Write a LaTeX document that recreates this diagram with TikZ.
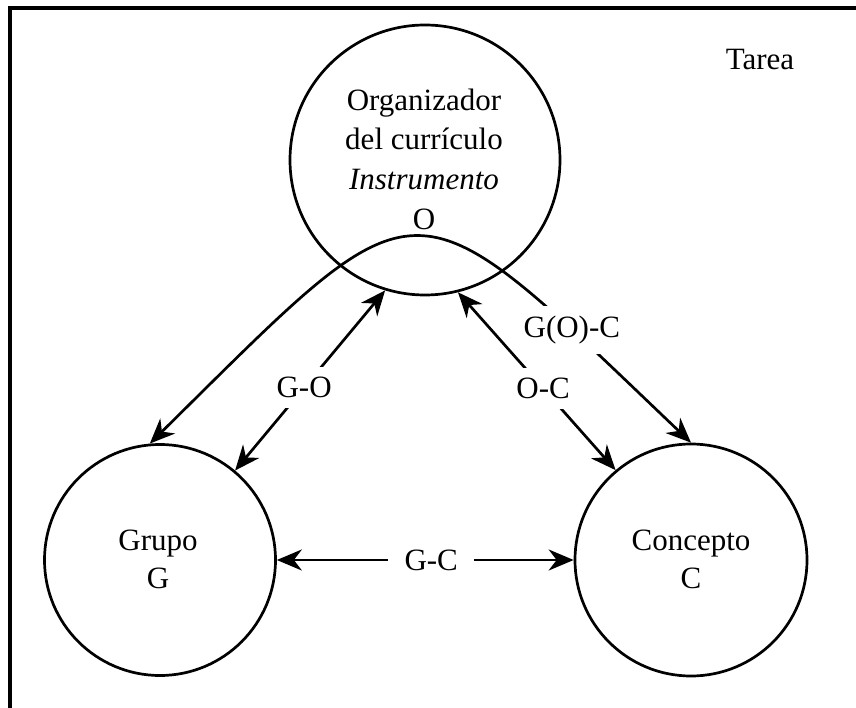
\documentclass[tikz,border=0pt]{standalone}
\usepackage{fontspec}
\setmainfont{Liberation Serif}
\usetikzlibrary{arrows.meta}
\begin{document}
\begin{tikzpicture}[x=1pt,y=-1pt,
  txt/.style={font=\fontsize{31}{38}\selectfont, inner sep=0pt, anchor=base},
  circ/.style={draw, circle, line width=2.7pt, inner sep=0pt},
  conn/.style={line width=2.7pt, {Stealth[length=25pt,width=21pt,inset=8pt]}-{Stealth[length=25pt,width=21pt,inset=8pt]}},
  lbl/.style={font=\fontsize{31}{38}\selectfont, fill=white, inner xsep=4pt, inner ysep=10pt}
]
\useasboundingbox (0,0) rectangle (856,708);
% frame
\draw[line width=3.2pt] (856,8) -- (10,8) -- (10,708);
% circles
\node[circ, minimum size=270pt] (O) at (425,160) {};
\node[circ, minimum size=231pt] (G) at (160,560) {};
\node[circ, minimum size=232pt] (C) at (691,560) {};
% texts
\node[txt] (o1) at (424,111) {Organizador};
\node[txt] (o2) at (424,150) {del currículo};
\node[txt] (o3) at (424,190) {\itshape Instrumento};
\node[txt] (o4) at (424,230) {O};
\node[txt] (g1) at (158,550) {Grupo};
\node[txt] (g2) at (158,588) {G};
\node[txt] (c1) at (691,550) {Concepto};
\node[txt] (c2) at (691,588) {C};
\node[txt] (tarea) at (760,70) {Tarea};
% connectors
\draw[conn] (G.50) -- node[lbl, pos=.46] (lgo) {G-O} (O.253.7);
\draw[conn] (O.284) -- node[lbl, pos=.54] (loc) {O-C} (C.130);
\draw[conn] (G.east) -- node[lbl, pos=.52, inner xsep=16pt] (lgc) {G-C} (C.west);
\draw[conn] (G.95) .. controls (427,170) and (405,170) .. node[lbl, pos=.835] (lgoc) {G(O)-C} (C.90);
\end{tikzpicture}
\end{document}
